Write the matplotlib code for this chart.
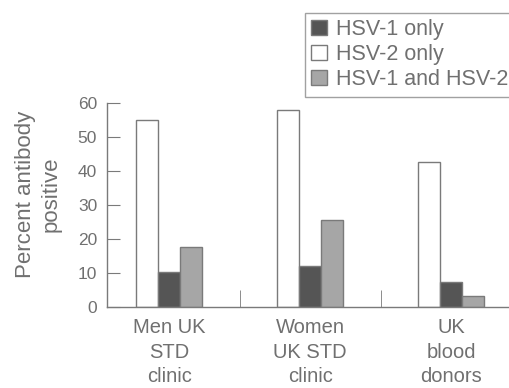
import matplotlib
matplotlib.use("Agg")
import matplotlib.pyplot as plt
import numpy as np

groups = ["Men UK\nSTD\nclinic", "Women\nUK STD\nclinic", "UK\nblood\ndonors"]
hsv2_only = [55, 58, 42.5]
hsv1_only = [10.2, 12, 7.3]
hsv1_and_2 = [17.5, 25.5, 3.3]
yticks = [0, 10, 20, 30, 40, 50, 60]

TXT = "#707070"
EDGE = "#7a7a7a"
plt.rcParams["font.family"] = ["Liberation Sans", "DejaVu Sans"]

fig = plt.figure(figsize=(5.09, 3.88), dpi=100)
ax = fig.add_axes([0.210, 0.209, 0.79, 0.526])

x = np.arange(len(groups))
w = 0.156
b_white = ax.bar(x - w, hsv2_only, w, color="white", edgecolor=EDGE, linewidth=1.0)
b_dark = ax.bar(x, hsv1_only, w, color="#555555", edgecolor=EDGE, linewidth=1.0)
b_grey = ax.bar(x + w, hsv1_and_2, w, color="#a6a6a6", edgecolor=EDGE, linewidth=1.0)

ax.set_xlim(-0.443, 2.41)
ax.set_ylim(0, 60)
ax.set_yticks(yticks)
ax.set_xticks(x)
ax.set_xticklabels(groups, fontsize=14.5, color=TXT, linespacing=1.38)
ax.set_xticks([0.5, 1.5], minor=True)
ax.tick_params(axis="x", which="major", length=0, pad=8)
ax.tick_params(axis="x", which="minor", direction="in", length=12, color=EDGE)
ax.tick_params(axis="y", direction="in", length=9, pad=7, labelsize=12.5,
               labelcolor=TXT, color=EDGE)

for s in ["top", "right"]:
    ax.spines[s].set_visible(False)
for s in ["left", "bottom"]:
    ax.spines[s].set_color(EDGE)
    ax.spines[s].set_linewidth(1.0)

fig.text(0.075, 0.499, "Percent antibody\npositive", rotation=90, ha="center",
         va="center", fontsize=16, color=TXT, linespacing=1.3)

leg = fig.legend([b_dark, b_white, b_grey],
                 ["HSV-1 only", "HSV-2 only", "HSV-1 and HSV-2"],
                 loc="upper left", bbox_to_anchor=(305 / 509, 1 - 13 / 388),
                 fontsize=15.5, frameon=True, fancybox=False,
                 handlelength=0.7, handleheight=0.7, handletextpad=0.45,
                 labelspacing=0.18, borderpad=0.3, borderaxespad=0)
leg.get_frame().set_edgecolor("#8a8a8a")
leg.get_frame().set_linewidth(1.0)
for t in leg.get_texts():
    t.set_color(TXT)

fig.savefig("out.png", dpi=100, facecolor="white")
